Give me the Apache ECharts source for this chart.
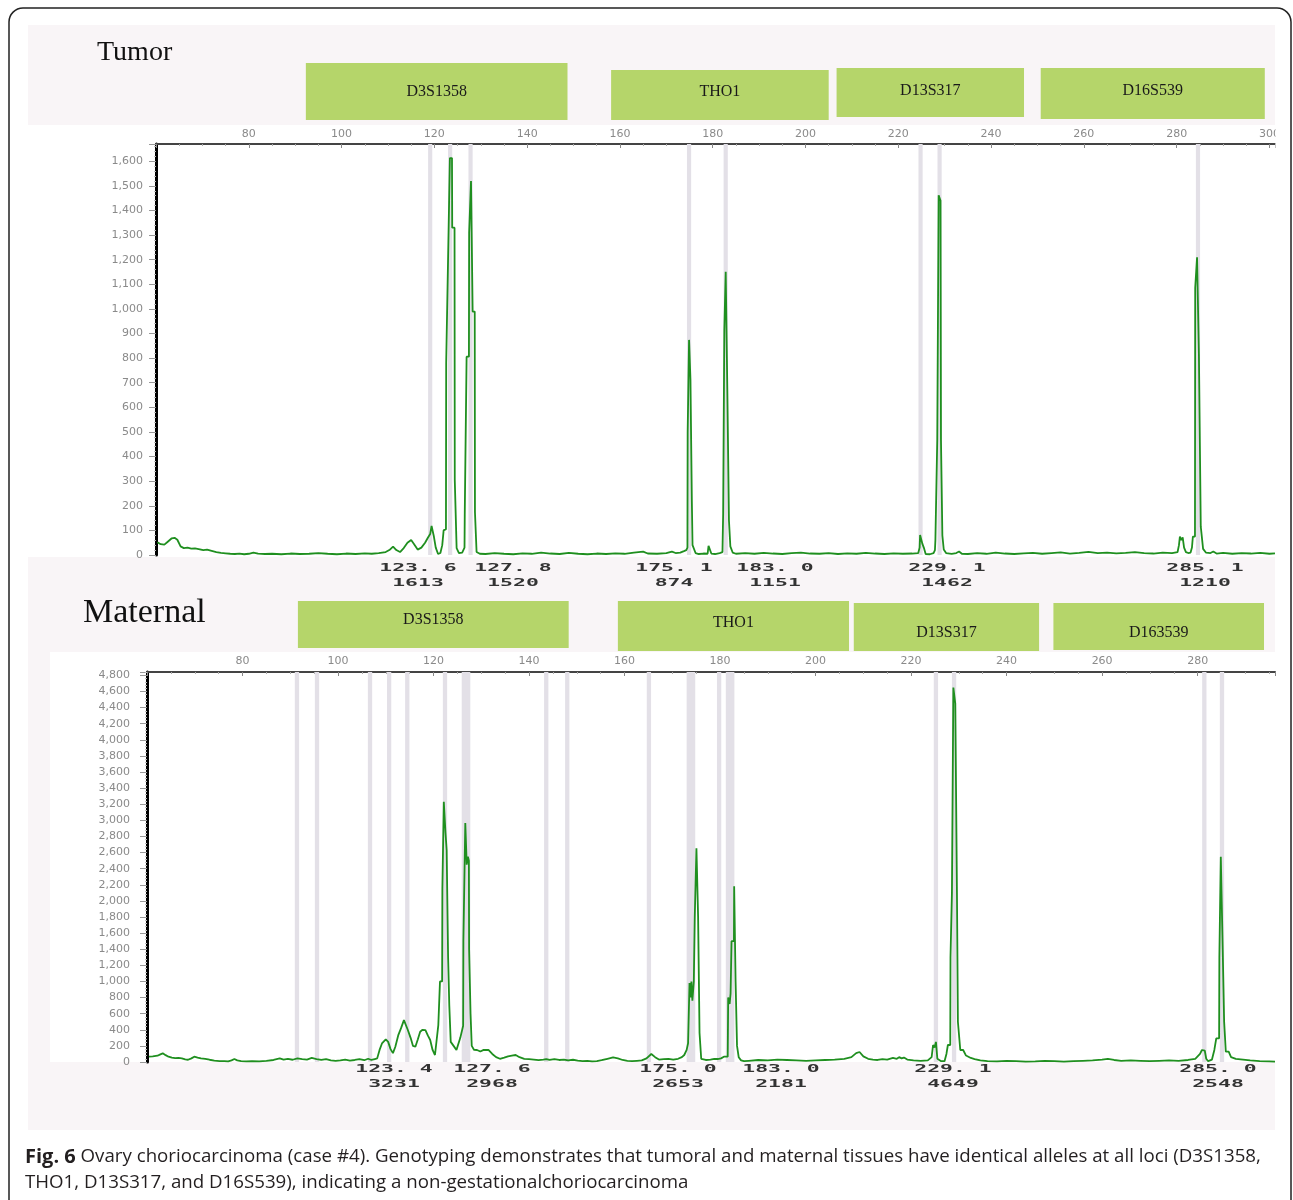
<!DOCTYPE html>
<html><head><meta charset="utf-8">
<script src="https://cdn.jsdelivr.net/npm/echarts@6/dist/echarts.min.js"></script>
<style>html,body{margin:0;padding:0;background:#fff;}#c{width:1293px;height:1200px;}</style>
</head><body><div id="c"></div>
<script>
// ---------------- DATA ----------------
const tumorTrace = [
[60.3,52],[61.0,44],[61.8,42],[62.6,55],[63.4,68],[64.0,70],[64.6,62],[65.3,35],[66.0,28],[66.8,30],[67.6,26],[68.4,27],[69.2,24],[70.2,20],[71.0,22],[72.0,17],[73.0,12],[74.0,9],[75.0,7],[76.0,5],[77.0,4],[78.0,6],[79.0,3],[80.0,5],[81.0,10],[82.0,6],[83.5,4],[85.0,5],[87.0,3],[89.0,6],[91.0,4],[93.0,5],[95.0,8],[97.0,5],[99.0,3],[101.0,6],[103.0,4],[105.0,7],[106.5,5],[108.0,8],[109.5,12],[110.3,20],[111.1,34],[111.8,20],[112.6,12],[113.4,28],[114.2,50],[115.0,61],[115.6,45],[116.4,22],[117.2,30],[118.0,50],[118.6,70],[119.1,85],[119.4,118],[119.7,122],[119.9,75],[120.3,30],[120.8,4],[121.3,8],[121.7,40],[122.0,100],[122.5,105],[122.55,781],[122.95,781],[123.0,1249],[123.3,1249],[123.35,1613],[123.8,1613],[123.85,1330],[124.35,1330],[124.4,305],[124.75,305],[124.8,28],[125.3,8],[126.0,10],[126.5,30],[126.55,163],[126.9,163],[126.95,806],[127.45,806],[127.5,1310],[127.85,1310],[127.9,1520],[128.2,1520],[128.25,989],[128.7,989],[128.75,175],[129.05,175],[129.1,12],[129.8,5],[131,4],[133,8],[135,5],[137,3],[139,7],[141,5],[143,10],[145,6],[147,4],[149,9],[151,5],[153,3],[155,6],[157,4],[159,7],[161,5],[163,10],[165,14],[166,6],[168,5],[170,8],[171.2,14],[172,8],[173,10],[173.8,16],[174.3,20],[174.55,30],[174.6,500],[174.85,500],[174.9,874],[175.15,874],[175.2,712],[175.45,712],[175.5,220],[175.65,40],[176.0,34],[176.3,8],[177,4],[178,6],[178.9,5],[179.1,37],[179.5,37],[179.7,6],[180.5,4],[181.5,8],[182.1,12],[182.25,168],[182.45,168],[182.5,915],[182.75,915],[182.8,1151],[183.1,1151],[183.15,671],[183.45,671],[183.5,140],[183.8,35],[184.3,10],[185,5],[187,8],[189,5],[191,9],[193,6],[195,4],[197,8],[199,10],[201,6],[203,5],[205,8],[207,4],[209,7],[211,5],[213,9],[215,6],[217,4],[219,7],[221,5],[223,6],[224.3,8],[224.6,30],[224.7,81],[225.1,81],[225.2,45],[225.5,30],[225.9,4],[226.8,3],[227.6,8],[227.9,20],[228.0,61],[228.35,61],[228.4,468],[228.65,468],[228.7,1462],[229.05,1462],[229.1,1440],[229.2,468],[229.45,468],[229.5,80],[229.8,22],[230.3,8],[231.5,5],[232.5,8],[233.1,14],[233.7,5],[235,4],[237,8],[239,5],[241,10],[243,6],[245,4],[247,7],[249,9],[251,5],[253,8],[255,11],[257,6],[259,9],[261,13],[263,8],[265,10],[267,7],[269,9],[271,12],[273,8],[275,6],[277,10],[279,8],[280.2,12],[280.5,40],[280.7,75],[281.0,60],[281.3,72],[281.6,30],[282.0,12],[282.5,8],[283.0,10],[283.3,30],[283.5,75],[283.95,75],[284.0,1086],[284.35,1086],[284.4,1210],[284.75,1210],[284.8,814],[285.15,814],[285.2,115],[285.6,115],[285.7,25],[286.3,10],[287.3,8],[287.9,14],[288.6,6],[290,9],[292,5],[294,8],[296,6],[298,9],[300,5],[301.2,7]
];
const maternalTrace = [
[60.4,66],[61.2,70],[62.2,78],[62.8,95],[63.3,108],[63.9,85],[64.5,66],[65.2,55],[65.9,48],[66.6,50],[67.3,45],[68.0,32],[68.6,28],[69.3,45],[69.9,66],[70.6,55],[71.3,45],[72.2,40],[73.1,28],[74.1,18],[75.2,12],[76.2,10],[77.0,8],[77.7,20],[78.3,37],[78.9,20],[79.7,10],[80.8,8],[82.0,12],[83.5,8],[85.0,15],[86.5,25],[87.8,46],[88.6,30],[89.5,40],[90.5,28],[91.5,45],[92.5,35],[93.5,30],[94.5,50],[95.5,35],[96.5,25],[97.5,35],[98.5,20],[99.5,15],[100.5,20],[101.5,30],[102.5,18],[103.5,25],[104.5,35],[105.5,22],[106.3,40],[107.0,25],[107.7,37],[108.2,45],[108.7,150],[109.2,230],[109.6,210],[110.0,280],[110.5,250],[111.0,160],[111.5,110],[112.0,190],[112.6,330],[113.2,420],[113.8,520],[114.2,500],[114.6,400],[115.2,300],[115.7,200],[116.2,190],[116.7,280],[117.2,376],[117.7,400],[118.3,397],[118.8,330],[119.3,273],[119.8,150],[120.3,87],[120.7,100],[121.0,459],[121.3,459],[121.35,1000],[121.8,1000],[121.85,2150],[122.1,2150],[122.15,3231],[122.45,3231],[122.5,2850],[122.7,2850],[122.75,2630],[123.0,2630],[123.05,1300],[123.3,700],[123.6,250],[124.2,200],[124.8,150],[125.2,128],[125.6,300],[126.2,450],[126.25,1500],[126.6,1500],[126.65,2968],[126.9,2968],[126.95,2450],[127.2,2550],[127.4,2500],[127.45,1400],[127.7,1400],[127.75,600],[128.0,200],[128.5,150],[129.1,149],[129.8,130],[130.5,150],[131.5,149],[132.3,100],[133.1,60],[133.9,40],[134.8,55],[135.6,70],[136.4,80],[137.2,87],[138.0,60],[139.0,40],[140.0,35],[141.0,30],[142.0,22],[143.0,30],[143.6,37],[144.3,25],[145.3,35],[146.3,25],[147.3,30],[148.2,20],[149.2,28],[150.2,18],[151.2,10],[152.2,15],[153.2,8],[154.2,12],[155.2,22],[156.4,40],[157.6,58],[158.6,45],[159.6,25],[160.6,15],[161.6,10],[162.6,15],[163.6,20],[164.6,45],[165.6,99],[166.4,60],[167.2,30],[168.2,35],[169.2,40],[170.2,30],[171.2,40],[172.0,60],[172.5,87],[173.0,150],[173.3,232],[173.6,980],[173.8,800],[174.0,1000],[174.2,760],[174.5,1000],[174.7,1800],[175.0,1800],[175.05,2653],[175.35,2653],[175.4,1800],[175.65,1800],[175.7,360],[176.0,360],[176.05,40],[176.4,30],[177,25],[178,30],[178.8,40],[179.5,37],[180.2,45],[180.8,66],[181.6,66],[181.7,800],[182.0,720],[182.2,850],[182.4,1500],[182.9,1500],[182.95,2181],[183.2,2181],[183.25,1000],[183.5,1000],[183.55,200],[183.9,60],[184.4,20],[185,10],[186,15],[188,25],[190,20],[192,30],[194,25],[196,20],[198,15],[200,20],[202,25],[204,30],[206,40],[207.5,60],[208.5,110],[209.2,124],[210.0,70],[211,40],[212,30],[213,25],[214,35],[215,30],[216.2,50],[216.6,70],[217.0,40],[217.5,60],[218.0,45],[218.5,55],[219.2,30],[220.5,20],[222,15],[223.5,20],[224.3,60],[224.6,211],[224.9,180],[225.2,250],[225.5,40],[226.3,10],[227.0,10],[227.4,100],[227.7,211],[228.2,211],[228.25,1300],[228.5,1300],[228.55,2100],[228.8,2100],[228.85,4649],[229.2,4649],[229.25,4450],[229.55,4450],[229.6,2100],[229.8,500],[230.3,149],[230.9,149],[231.5,80],[232.5,50],[233.3,37],[234.5,20],[236,10],[238,8],[240,15],[242,10],[244,5],[246,8],[248,15],[250,10],[252,5],[254,10],[256,15],[258,20],[260,30],[261.2,40],[262.5,25],[264,15],[266,20],[268,15],[270,10],[272,15],[274,20],[276,15],[278,25],[279.5,40],[280.5,100],[280.9,149],[281.2,130],[281.5,140],[281.8,40],[282.2,10],[283.0,30],[283.5,150],[283.9,294],[284.5,294],[284.55,1300],[284.8,1300],[284.85,2548],[285.2,2548],[285.25,1400],[285.5,1400],[285.55,500],[285.9,128],[286.5,128],[287.0,60],[288,40],[289.5,30],[291,20],[293,10],[295,8],[296.2,5]
];
// allele bins: [centre bp, width bp]
const tumorBins = [[119.1,0.9],[123.4,0.9],[127.8,0.9],[174.9,0.9],[182.8,0.9],[224.8,0.9],[228.9,0.9],[284.6,0.9]];
const maternalBins = [[91.4,0.9],[95.6,0.9],[106.7,0.9],[110.7,0.9],[114.5,0.9],[122.4,0.9],[126.8,1.8],[143.6,0.9],[148.0,0.9],[165.1,0.9],[173.9,1.8],[179.8,0.9],[182.1,1.8],[225.2,0.9],[229.0,0.9],[281.4,0.9],[285.1,0.9]];
// loci (bp ranges)
const tumorLoci = [['D3S1358',92.3,148.7],['THO1',158.1,205.0],['D13S317',206.7,247.1],['D16S539',250.7,299.0]];
const maternalLoci = [['D3S1358',91.6,148.3],['THO1',158.6,207.0],['D13S317',208.0,246.8],['D163539',249.8,293.9]];
// allele calls [size, height]
const tumorCalls = [['123. 6','1613'],['127. 8','1520'],['175. 1','874'],['183. 0','1151'],['229. 1','1462'],['285. 1','1210']];
const maternalCalls = [['123. 4','3231'],['127. 6','2968'],['175. 0','2653'],['183. 0','2181'],['229. 1','4649'],['285. 0','2548']];
// tick labels
const tumorXTicks = [80,100,120,140,160,180,200,220,240,260,280,300];
const maternalXTicks = [80,100,120,140,160,180,200,220,240,260,280];
const tumorYTicks = [0,100,200,300,400,500,600,700,800,900,1000,1100,1200,1300,1400,1500,1600];
const maternalYTicks = [0,200,400,600,800,1000,1200,1400,1600,1800,2000,2200,2400,2600,2800,3000,3200,3400,3600,3800,4000,4200,4400,4600,4800];
const panelTitles = ['Tumor','Maternal'];
const captionBold = 'Fig. 6';
const captionLine1 = ' Ovary choriocarcinoma (case #4). Genotyping demonstrates that tumoral and maternal tissues have identical alleles at all loci (D3S1358,';
const captionLine2 = 'THO1, D13S317, and D16S539), indicating a non-gestationalchoriocarcinoma';

// ---------------- LAYOUT / STYLE ----------------
const GREEN = '#1f8f1f', BIN = '#e3e0e7', PINK = '#f9f5f7', BOX = '#b5d56a';
const comma = v => String(v).replace(/\B(?=(\d{3})+(?!\d))/g, ',');
const tickFont = {color:'#8a8a8a', fontFamily:'DejaVu Sans', fontSize:11};

function xAxisCfg(gi, max, ticks, margin){
  return {gridIndex:gi, type:'value', position:'top', min:60, max:max, interval:20,
    axisLine:{show:true, onZero:false, lineStyle:{color:'#444', width:2}},
    axisTick:{show:true, inside:true, length:4, lineStyle:{color:'#888'}},
    minorTick:{show:true, splitNumber:4, length:2, lineStyle:{color:'#aaa'}},
    splitLine:{show:false},
    axisLabel:Object.assign({margin:margin, formatter:v=>ticks.includes(v)?String(v):''}, tickFont)};
}
function yAxisCfg(gi, max, interval, ticks, margin){
  return {gridIndex:gi, type:'value', min:0, max:max, interval:interval,
    axisLine:{show:true, lineStyle:{color:'#000', width:3}},
    axisTick:{show:true, length:7, lineStyle:{color:'#999'}},
    minorTick:{show:true, splitNumber:5, length:2, lineStyle:{color:'#bbb'}},
    splitLine:{show:false},
    axisLabel:Object.assign({margin:margin, formatter:v=>ticks.includes(v)?comma(v):''}, tickFont)};
}
function traceSeries(idx, data, bins){
  return {type:'line', xAxisIndex:idx, yAxisIndex:idx, data:data, symbol:'none', showSymbol:false,
    clip:true, z:3, lineStyle:{color:GREEN, width:1.8}, emphasis:{disabled:true},
    markArea:{silent:true, itemStyle:{color:BIN}, data:bins.map(b=>[{xAxis:b[0]-b[1]/2},{xAxis:b[0]+b[1]/2}])}};
}

const bg = [
  {type:'rect', z:-5, shape:{x:9,y:8,width:1282,height:1215,r:14}, style:{fill:'#fff', stroke:'#222', lineWidth:1.5}},
  {type:'rect', z:-4, shape:{x:28,y:25,width:1247,height:1105}, style:{fill:PINK}},
  {type:'rect', z:-3, shape:{x:28,y:125,width:1247,height:432}, style:{fill:'#fff'}},
  {type:'rect', z:-3, shape:{x:50,y:652,width:1225,height:410}, style:{fill:'#fff'}},
];

const chart = echarts.init(document.getElementById('c'));
chart.setOption({
  animation:false,
  backgroundColor:'#fff',
  grid:[{left:156, top:144, width:1119, height:411},{left:147, top:672, width:1128, height:390}],
  xAxis:[xAxisCfg(0, 301.2, tumorXTicks, 4), xAxisCfg(1, 296.2, maternalXTicks, 5)],
  yAxis:[yAxisCfg(0, 1670, 100, tumorYTicks, 13), yAxisCfg(1, 4842, 200, maternalYTicks, 17)],
  series:[traceSeries(0, tumorTrace, tumorBins), traceSeries(1, maternalTrace, maternalBins)],
  graphic:{elements:bg}
});

// ---------- annotations positioned through the axes ----------
const els = bg.slice();
const tumorBoxV = [[63,120,92],[70,120,92],[68,117,91],[68,119,91]];
const maternalBoxV = [[601,648,620],[601,651,623],[603,651,633],[603,650,633]];
function addLoci(loci, vlay, xi){
  loci.forEach((l,i)=>{
    const x0 = chart.convertToPixel({xAxisIndex:xi}, l[1]);
    const x1 = chart.convertToPixel({xAxisIndex:xi}, l[2]);
    const v = vlay[i];
    els.push({type:'rect', z:1, shape:{x:x0, y:v[0], width:x1-x0, height:v[1]-v[0]}, style:{fill:BOX}});
    els.push({type:'text', z:2, x:(x0+x1)/2, y:v[2], style:{text:l[0], fill:'#1a1a1a', font:'16px "Liberation Serif"', textAlign:'center', textVerticalAlign:'middle'}});
  });
}
addLoci(tumorLoci, tumorBoxV, 0);
addLoci(maternalLoci, maternalBoxV, 1);

const tumorLabelX = [418,513,674,775,947,1205];
const maternalLabelX = [394,492,678,781,953,1218];
function addCalls(calls, xs, y1, y2){
  calls.forEach((c,i)=>{
    [[c[0],y1],[c[1],y2]].forEach(t=>{
      els.push({type:'text', z:20, x:xs[i], y:t[1], scaleX:1.95, scaleY:0.95,
        style:{text:t[0], fill:'#333', font:'bold 11px "DejaVu Sans Mono"', textAlign:'center', textVerticalAlign:'middle'}});
    });
  });
}
addCalls(tumorCalls, tumorLabelX, 568, 583);
addCalls(maternalCalls, maternalLabelX, 1069, 1084);

// clip the last top-axis label like the source image
els.push({type:'rect', z:30, shape:{x:1275.5, y:126, width:14, height:430}, style:{fill:'#fff'}});

els.push({type:'text', z:20, x:97, y:53, style:{text:panelTitles[0], fill:'#111', font:'28px "Liberation Serif"', textVerticalAlign:'middle'}});
els.push({type:'text', z:20, x:83, y:613, style:{text:panelTitles[1], fill:'#111', font:'34px "Liberation Serif"', textVerticalAlign:'middle'}});

els.push({type:'text', z:20, x:25, y:1157, style:{text:'{b|'+captionBold+'}{n|'+captionLine1+'}', textVerticalAlign:'middle',
  rich:{b:{font:'bold 20px "Open Sans"', fill:'#231f20'}, n:{font:'18.7px "Open Sans"', fill:'#231f20'}}}});
els.push({type:'text', z:20, x:25, y:1183, style:{text:captionLine2, font:'18.7px "Open Sans"', fill:'#231f20', textVerticalAlign:'middle'}});

chart.setOption({graphic:{elements:els}});
</script>
</body></html>
